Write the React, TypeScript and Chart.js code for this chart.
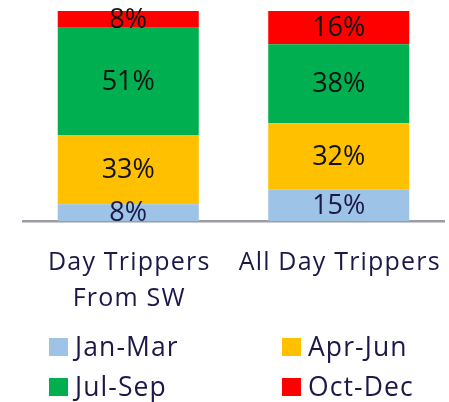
import React, { useEffect, useRef } from "react";
import { Chart, registerables } from "chart.js";

Chart.register(...registerables);

const categories: string[][] = [["Day Trippers", "From SW"], ["All Day Trippers"]];
const seriesNames = ["Jan-Mar", "Apr-Jun", "Jul-Sep", "Oct-Dec"];
const janMar = [8, 15];
const aprJun = [33, 32];
const julSep = [51, 38];
const octDec = [8, 16];
const seriesColors = ["#9DC3E6", "#FFC000", "#00B050", "#FF0000"];

const FONT = "'Open Sans', sans-serif";
const NAVY = "#1C1848";

const rawSeries = [janMar, aprJun, julSep, octDec];
const totals = categories.map((_, i) => rawSeries.reduce((s, arr) => s + arr[i], 0));

const labelPlugin = {
  id: "segLabels",
  afterDatasetsDraw(chart: any) {
    const ctx = chart.ctx;
    ctx.save();
    ctx.font = `27px ${FONT}`;
    ctx.textAlign = "center";
    ctx.textBaseline = "middle";
    chart.data.datasets.forEach((ds: any, di: number) => {
      const meta = chart.getDatasetMeta(di);
      meta.data.forEach((el: any, i: number) => {
        const raw = ds.raw[i];
        const y = (el.y + el.base) / 2;
        ctx.fillStyle = di === 0 ? NAVY : "#111111";
        ctx.fillText(`${raw}%`, el.x, y + 1);
      });
    });
    ctx.restore();
  },
};

const catLabelPlugin = {
  id: "catLabels",
  afterDraw(chart: any) {
    const ctx = chart.ctx;
    const xs = chart.scales.x;
    ctx.save();
    ctx.font = `25px ${FONT}`;
    (ctx as any).letterSpacing = "1.2px";
    ctx.textAlign = "center";
    ctx.textBaseline = "alphabetic";
    ctx.fillStyle = NAVY;
    categories.forEach((lines, i) => {
      const x = xs.getPixelForValue(i);
      lines.forEach((line, li) => {
        ctx.fillText(line, x + 1, 270 + li * 36);
      });
    });
    ctx.restore();
  },
};

const legendPlugin = {
  id: "gridLegend",
  afterDraw(chart: any) {
    const ctx = chart.ctx;
    ctx.save();
    ctx.font = `26.5px ${FONT}`;
    (ctx as any).letterSpacing = "1.1px";
    ctx.textBaseline = "alphabetic";
    ctx.textAlign = "left";
    const cols = [49, 282];
    const rows = [347, 387];
    seriesNames.forEach((name, i) => {
      const x = cols[i % 2];
      const y = rows[Math.floor(i / 2)];
      ctx.fillStyle = seriesColors[i];
      ctx.fillRect(x, y - 9, 19, 18);
      ctx.fillStyle = NAVY;
      ctx.fillText(name, x + 26, y + 8.5);
    });
    ctx.restore();
  },
};

export default function App() {
  const ref = useRef<HTMLCanvasElement>(null);
  useEffect(() => {
    if (!ref.current) return;
    const chart = new Chart(ref.current, {
      type: "bar",
      data: {
        labels: categories.map((c) => c.join(" ")),
        datasets: rawSeries.map((arr, si) => ({
          label: seriesNames[si],
          data: arr.map((v, i) => (v / totals[i]) * 100),
          raw: arr,
          backgroundColor: seriesColors[si],
          borderWidth: 0,
          categoryPercentage: 1,
          barPercentage: 0.67,
        })) as any,
      },
      options: {
        animation: false,
        responsive: false,
        maintainAspectRatio: false,
        layout: { padding: { top: 11, left: 23, right: 5, bottom: 0 } },
        plugins: { legend: { display: false }, tooltip: { enabled: false }, title: { display: false } },
        scales: {
          x: {
            stacked: true,
            grid: { display: false, drawTicks: false },
            border: { display: true, color: "#9C9CA4", width: 2.5 },
            ticks: { display: false },
            afterFit: (scale: any) => {
              scale.height = 181;
            },
          },
          y: { stacked: true, display: false, min: 0, max: 100 },
        },
      },
      plugins: [labelPlugin, catLabelPlugin, legendPlugin],
    });
    return () => chart.destroy();
  }, []);
  return (
    <div style={{ position: "fixed", left: 0, top: 0, width: 449, height: 402, background: "#fff" }}>
      <canvas ref={ref} width={449} height={402} style={{ width: 449, height: 402 }} />
    </div>
  );
}
